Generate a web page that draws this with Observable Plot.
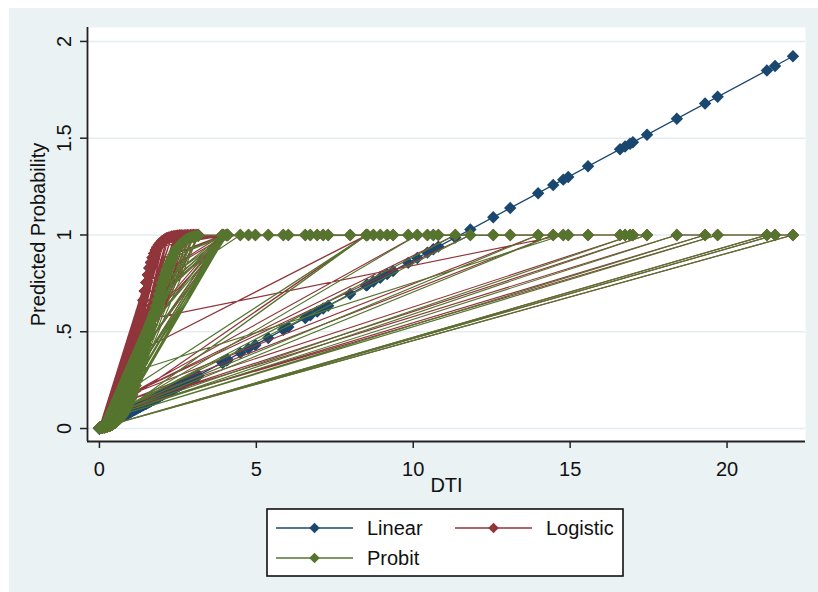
<!DOCTYPE html>
<html><head><meta charset="utf-8">
<script src="https://cdn.jsdelivr.net/npm/d3@7"></script>
<script src="https://cdn.jsdelivr.net/npm/@observablehq/plot@0.6"></script>
<style>
html,body{margin:0;padding:0;background:#fff;}
#wrap{position:relative;width:818px;height:592px;overflow:hidden;font-family:"Liberation Sans",Arial,sans-serif;}
#bg{position:absolute;left:9px;top:8px;right:0;bottom:0;background:#eaf2f3;}
#chart{position:absolute;left:0;top:0;}
#legend{position:absolute;left:266px;top:508px;}
</style></head><body>
<div id="wrap"><div id="bg"></div><div id="chart"></div><div id="legend"></div></div>
<script>
// Distinct DTI values and the predicted probability of each model at that DTI
const dtiValues = [
  0, 0.05, 0.1, 0.15, 0.2, 0.25, 0.3, 0.35, 0.4, 0.45, 0.5, 0.55, 0.6, 0.65, 0.7, 0.75, 0.8, 0.85, 0.9, 0.95,
  1.0, 1.05, 1.1, 1.15, 1.2, 1.25, 1.3, 1.35, 1.4, 1.45, 1.5, 1.55, 1.6, 1.65, 1.7, 1.75, 1.8, 1.85, 1.9, 1.95,
  2.0, 2.05, 2.1, 2.15, 2.2, 2.25, 2.3, 2.35, 2.4, 2.45, 2.5, 2.55, 2.6, 2.65, 2.7, 2.75, 2.8, 2.85, 2.9, 2.95,
  3.0, 3.05, 3.1, 3.15,
  3.92, 3.95, 4.05, 4.08, 4.49, 4.75, 4.97, 5.38, 5.86, 6.02, 6.56, 6.72, 6.94, 7.13, 7.29, 7.99,
  8.5, 8.52, 8.54, 8.73, 8.95, 9.17, 9.36, 9.84, 10.13, 10.45, 10.64, 10.8, 11.34, 11.82, 12.55, 13.09,
  13.98, 14.46, 14.78, 14.94, 15.57, 16.59, 16.75, 16.91, 17.0, 17.45, 18.4, 19.3, 19.7, 21.27, 21.53, 22.1
];
const linearFit = [
  0, .004, .009, .013, .017, .022, .026, .030, .035, .039, .044, .048, .052, .057, .061, .065, .070, .074, .078, .083,
  .087, .091, .096, .100, .104, .109, .113, .117, .122, .126, .131, .135, .139, .144, .148, .152, .157, .161, .165, .170,
  .174, .178, .183, .187, .191, .196, .200, .204, .209, .213, .218, .222, .226, .231, .235, .239, .244, .248, .252, .257,
  .261, .265, .270, .274,
  .341, .344, .352, .355, .391, .413, .432, .468, .510, .524, .571, .585, .604, .620, .634, .695,
  .740, .741, .743, .760, .779, .798, .814, .856, .881, .909, .926, .940, .987, 1.028, 1.092, 1.139,
  1.216, 1.258, 1.286, 1.300, 1.355, 1.443, 1.457, 1.471, 1.479, 1.518, 1.601, 1.679, 1.714, 1.850, 1.873, 1.923
];
const logisticFit = [
  .004, .005, .006, .007, .009, .011, .014, .017, .021, .027, .033, .041, .051, .063, .078, .095, .117, .142, .171, .206,
  .245, .289, .337, .389, .444, .500, .556, .611, .663, .711, .755, .794, .829, .858, .883, .904, .922, .937, .949, .959,
  .967, .973, .979, .983, .986, .989, .991, .993, .994, .995, .996, .997, .998, .998, .998, .999, .999, .999, .999, 1,
  1, 1, 1, 1,
  1, 1, 1, 1, 1, 1, 1, 1, 1, 1, 1, 1, 1, 1, 1, 1,
  1, 1, 1, 1, 1, 1, 1, 1, 1, 1, 1, 1, 1, 1, 1, 1,
  1, 1, 1, 1, 1, 1, 1, 1, 1, 1, 1, 1, 1, 1, 1, 1
];
const probitFit = [
  .003, .004, .005, .007, .009, .011, .014, .017, .021, .026, .031, .037, .045, .053, .063, .074, .087, .101, .117, .135,
  .154, .175, .198, .222, .248, .276, .305, .336, .367, .400, .433, .467, .500, .533, .567, .600, .633, .664, .695, .724,
  .752, .778, .802, .825, .846, .865, .883, .899, .913, .926, .937, .947, .955, .963, .969, .974, .979, .983, .986, .989,
  .991, .993, .994, .996,
  .999, .999, 1, 1, 1, 1, 1, 1, 1, 1, 1, 1, 1, 1, 1, 1,
  1, 1, 1, 1, 1, 1, 1, 1, 1, 1, 1, 1, 1, 1, 1, 1,
  1, 1, 1, 1, 1, 1, 1, 1, 1, 1, 1, 1, 1, 1, 1, 1
];
// DTI of each observation, in data order (lines join consecutive observations, as in the original)
const obsOrder = [
  0, 0.05, 0.1, 0.15, 0.2, 0.25, 0.3, 0.35, 0.4, 0.45, 0.5, 0.55, 0.6, 0.65, 0.7, 0.75, 0.8, 0.85, 0.9, 0.95,
  1.0, 1.05, 1.1, 1.15, 1.2, 1.25, 1.3, 1.35, 1.4, 1.45, 1.5, 1.55, 1.6, 1.65, 1.7, 1.75, 1.8, 1.85, 1.9, 1.95,
  2.0, 2.05, 2.1, 2.15, 2.2, 2.25, 2.3, 2.35, 2.4, 2.45, 2.5, 2.55, 2.6, 2.65, 2.7, 2.75, 2.8, 2.85, 2.9, 2.95,
  3.0, 3.05, 3.1, 3.15,
  0.05, 1.8, 0.1, 2.1, 0.15, 2.5, 0.3, 2.9, 0.35, 1.9, 0.45, 2.3, 0.25, 2.7, 0.5, 2.0, 0.55, 1.7, 0.65, 2.2,
  0.7, 1.75, 0.75, 2.6, 0.95, 2.8, 0.85, 3.0, 0.2, 1.6, 0.4, 2.4, 0.6, 1.85, 0, 1.55, 0.8, 2.05, 0.9, 2.45,
  0.1, 1.65, 0.3, 1.95, 0.5, 2.15, 0.7, 2.55,
  0, 1.6, 0.05, 1.5, 0.15, 1.7, 0.25, 1.55, 0.35, 1.65, 0.45, 1.75, 0.55, 1.5, 0.65, 1.6, 0.75, 1.7, 0.1, 1.45,
  0.2, 1.75, 0.3, 1.5, 0.4, 1.8, 0.5, 1.55, 0.6, 1.65, 0.7, 1.45, 0.8, 1.9, 0, 1.7, 0.15, 1.85, 0.35, 1.4,
  0.55, 2.0, 0.25, 1.9, 0.45, 1.6, 0.05, 2.0,
  1.2, 3.92, 1.5, 4.08, 1.65, 3.95, 1.85, 4.05, 2.0, 3.92, 1.35, 4.08, 2.3, 3.95, 1.1, 4.05, 1.0, 3.92, 1.25, 4.08, 1.95,
  4.49, 4.75, 4.97, 5.38, 5.86, 6.02, 6.56, 6.72, 6.94, 7.13, 7.29, 7.99, 8.5,
  0.85, 8.52, 1.15, 8.54, 8.73, 8.95, 9.17, 9.36, 9.84, 10.13, 0.9, 11.34, 10.45, 10.64, 10.8, 11.82,
  0.9, 13.98, 12.55, 13.09, 14.46, 0.85, 17.0, 14.94, 15.57, 16.59, 16.75, 16.91, 17.45, 0.8, 18.4, 19.3,
  0.75, 19.7, 21.27, 0.05, 21.53, 22.1, 0,
  0.5, 1.0, 3.15, 14.78, 1.3, 0.6, 0
];
const seriesNames = ["Linear", "Logistic", "Probit"];
const seriesColors = ["#1a476f", "#90353b", "#55752f"];
const xTicks = [0, 5, 10, 15, 20];
const yTicks = [0, 0.5, 1, 1.5, 2];
const yTickLabels = ["0", ".5", "1", "1.5", "2"];
const xLabel = "DTI";
const yLabel = "Predicted Probability";

const xDomain = [-0.38, 22.5];
const yDomain = [-0.067, 2.072];
const FONT = "'Liberation Sans', Arial, sans-serif";

const fits = [linearFit, logisticFit, probitFit];
const idx = new Map(dtiValues.map((v, i) => [v, i]));
const rows = obsOrder.map(x => {
  const i = idx.get(x);
  return {x, v0: linearFit[i], v1: logisticFit[i], v2: probitFit[i]};
});

const marks = [
  Plot.frame({fill: "white", stroke: "none"}),
  Plot.ruleY(yTicks, {y: d => d, stroke: "#e3edef", strokeWidth: 1.6})
];
fits.forEach((s, k) => {
  marks.push(Plot.line(rows, {x: "x", y: "v" + k, stroke: seriesColors[k], strokeWidth: 1.15}));
  marks.push(Plot.dot(rows, {x: "x", y: "v" + k, fill: seriesColors[k], stroke: "none", symbol: "diamond2", r: 5.6}));
});
marks.push(
  Plot.ruleX([xDomain[0]], {stroke: "#222", strokeWidth: 1.8}),
  Plot.ruleY([yDomain[0]], {stroke: "#222", strokeWidth: 1.8}),
  Plot.axisX(xTicks, {tickSize: 7, tickPadding: 13, label: null, stroke: "#222", strokeWidth: 1.5, fontSize: 20, fill: "#111"}),
  Plot.axisY(yTicks, {tickSize: 7, tickFormat: () => "", label: null, stroke: "#222", strokeWidth: 1.5}),
  Plot.text(yTicks, {y: d => d, text: (d, i) => yTickLabels[i], frameAnchor: "left", dx: -23, rotate: -90,
    textAnchor: "middle", lineAnchor: "middle", fontSize: 20, fill: "#111"}),
  Plot.text([xLabel], {text: d => d, frameAnchor: "bottom", dy: 44, lineAnchor: "middle", fontSize: 20, fill: "#111"}),
  Plot.text([yLabel], {text: d => d, frameAnchor: "left", dx: -49, rotate: -90, textAnchor: "middle", lineAnchor: "middle", fontSize: 20, fill: "#111"})
);

const chart = Plot.plot({
  width: 818, height: 500,
  marginLeft: 87, marginRight: 13, marginTop: 27, marginBottom: 59,
  x: {domain: xDomain, label: null},
  y: {domain: yDomain, label: null},
  style: {background: "transparent", fontFamily: FONT, fontSize: "20px", color: "#111", overflow: "visible"},
  marks
});
document.getElementById("chart").appendChild(chart);

// Legend
const lg = d3.select("#legend").append("svg").attr("width", 360).attr("height", 70)
  .style("font-family", FONT).style("font-size", "20px");
lg.append("rect").attr("x", 1).attr("y", 1).attr("width", 356).attr("height", 67)
  .attr("fill", "white").attr("stroke", "#111").attr("stroke-width", 1.6);
const slots = [[10, 20], [189, 20], [10, 50]];
seriesNames.forEach((name, k) => {
  const [lx, ly] = slots[k];
  const g = lg.append("g").attr("transform", `translate(${lx},${ly})`);
  g.append("line").attr("x1", 0).attr("x2", 77).attr("stroke", seriesColors[k]).attr("stroke-width", 1.4);
  g.append("path").attr("transform", "translate(38.5,0)")
    .attr("d", d3.symbol(d3.symbolDiamond2, 70)()).attr("fill", seriesColors[k]);
  g.append("text").attr("x", 91).attr("dy", "0.35em").attr("fill", "#111").text(name);
});
</script>
</body></html>
